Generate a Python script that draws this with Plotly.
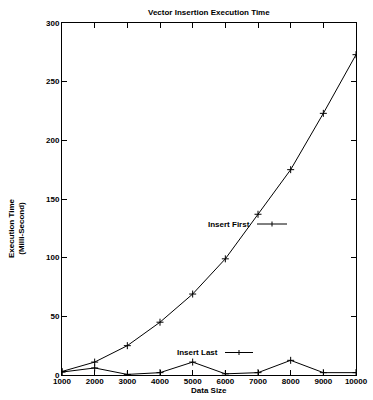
import plotly.graph_objects as go

data_size = [1000, 2000, 3000, 4000, 5000, 6000, 7000, 8000, 9000, 10000]
insert_first = [3, 11, 25, 45, 69, 99, 137, 175, 223, 273]
insert_last = [2.5, 6, 0.5, 2, 11, 1, 2, 12.5, 2, 2]
x_ticks = [1000, 2000, 3000, 4000, 5000, 6000, 7000, 8000, 9000, 10000]
x_tick_labels = ["1000", "2000", "3000", "4000", "5000", "6000", "7000", "8000", "9000", "10000"]
y_ticks = [0, 50, 100, 150, 200, 250, 300]

W, H = 373, 400
ML, MR, MT, MB = 62, 17, 23, 25
PW, PH = W - ML - MR, H - MT - MB

def px(x):
    return (x - ML) / PW

def py(y):
    return (H - MB - y) / PH

FONT = "Liberation Sans"
TF = dict(family=FONT, size=8, weight="bold", color="black")
fig = go.Figure()
line_style = dict(color="black", width=1)
marker_style = dict(symbol="cross-thin", size=5, line=dict(color="black", width=1), color="black")
fig.add_trace(go.Scatter(x=data_size, y=insert_first, mode="lines+markers", line=line_style,
                         marker=marker_style, name="Insert First", showlegend=False, hoverinfo="skip"))
fig.add_trace(go.Scatter(x=data_size, y=insert_last, mode="lines+markers", line=line_style,
                         marker=marker_style, name="Insert Last", showlegend=False, hoverinfo="skip"))

axis_common = dict(showline=True, linecolor="black", linewidth=1, mirror="ticks", ticks="inside",
                   ticklen=5, tickcolor="black", showgrid=False, zeroline=False, tickfont=TF,
                   automargin=False)
fig.update_xaxes(range=[1000, 10000], tickvals=x_ticks, ticktext=x_tick_labels,
                 ticklabelstandoff=-2, **axis_common)
fig.update_yaxes(range=[0, 300], tickvals=y_ticks, **axis_common)

annotations = [
    dict(text="Vector Insertion Execution Time", x=0.5, y=py(12.5), xref="paper", yref="paper",
         xanchor="center", yanchor="middle", showarrow=False, font=TF),
    dict(text="Data Size", x=0.5, y=py(390), xref="paper", yref="paper",
         xanchor="center", yanchor="middle", showarrow=False, font=TF),
    dict(text="Execution Time<br>(Milli-Second)", x=px(16), y=py(228), xref="paper", yref="paper",
         xanchor="center", yanchor="middle", textangle=-90, showarrow=False, font=TF),
    dict(text="Insert First", x=px(252), y=py(224), xref="paper", yref="paper", xanchor="right",
         yanchor="middle", showarrow=False, font=TF),
    dict(text="Insert Last", x=px(220), y=py(352.5), xref="paper", yref="paper", xanchor="right",
         yanchor="middle", showarrow=False, font=TF),
]

shapes = []
for (x0, x1, xm, yk) in [(257, 287, 272, 224), (225, 253, 239, 352.5)]:
    shapes.append(dict(type="line", xref="paper", yref="paper", x0=px(x0), x1=px(x1),
                       y0=py(yk), y1=py(yk), line=dict(color="black", width=1)))
    shapes.append(dict(type="line", xref="paper", yref="paper", x0=px(xm), x1=px(xm),
                       y0=py(yk - 2.5), y1=py(yk + 2.5), line=dict(color="black", width=1)))

fig.update_layout(width=W, height=H, margin=dict(l=ML, r=MR, t=MT, b=MB),
                  paper_bgcolor="white", plot_bgcolor="white", hovermode=False,
                  annotations=annotations, shapes=shapes, showlegend=False)

fig.write_html("out.html", config={"displayModeBar": False},
               post_script="document.body.style.margin='0px';document.body.style.overflow='hidden';")
